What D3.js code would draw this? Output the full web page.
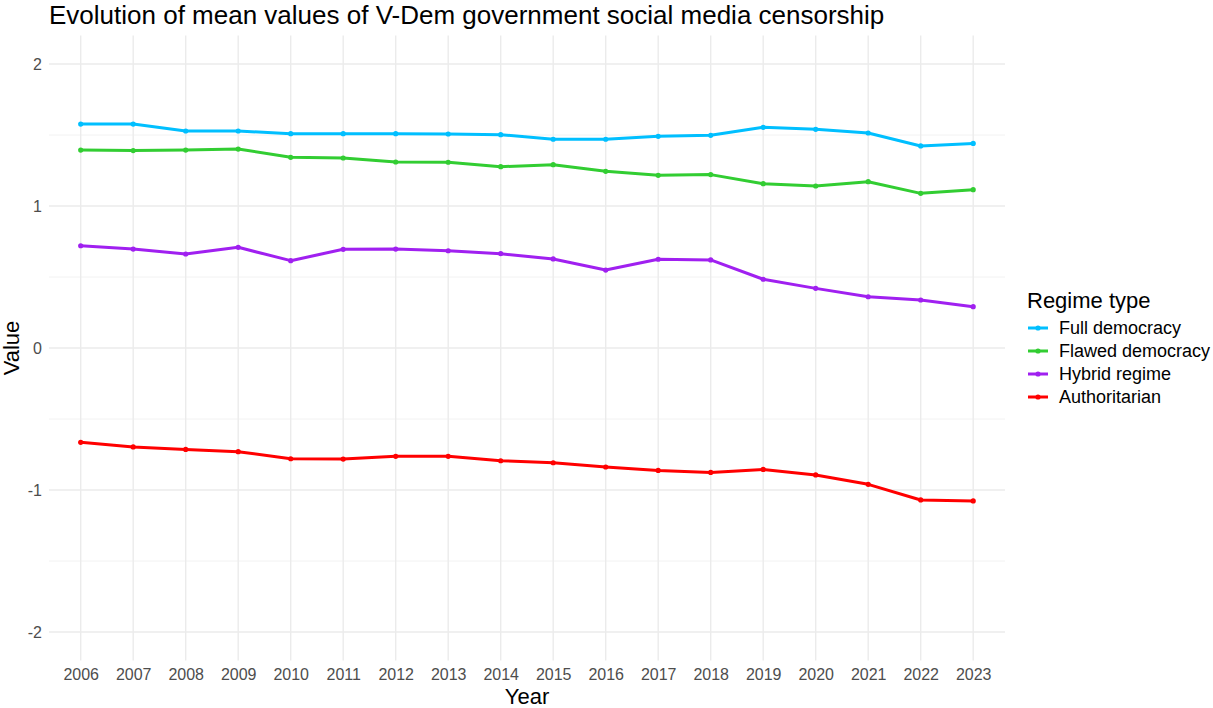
<!DOCTYPE html>
<html><head><meta charset="utf-8">
<script src="https://cdn.jsdelivr.net/npm/d3@7"></script>
<style>
body{margin:0;background:#fff;}
text{font-family:"Liberation Sans",Arial,sans-serif;}
</style></head><body>
<svg id="chart" width="1213" height="708"></svg>
<script>
const years = [2006,2007,2008,2009,2010,2011,2012,2013,2014,2015,2016,2017,2018,2019,2020,2021,2022,2023];
const seriesNames = ["Full democracy","Flawed democracy","Hybrid regime","Authoritarian"];
const seriesColors = ["#00BFFF","#32CD32","#A020F0","#FF0000"];
const fullDemocracy = [1.577,1.577,1.528,1.528,1.509,1.509,1.509,1.507,1.502,1.470,1.470,1.491,1.498,1.554,1.540,1.514,1.423,1.441];
const flawedDemocracy = [1.394,1.390,1.394,1.401,1.343,1.338,1.310,1.308,1.277,1.291,1.244,1.216,1.221,1.157,1.141,1.171,1.089,1.115];
const hybridRegime = [0.720,0.697,0.662,0.709,0.615,0.695,0.697,0.685,0.664,0.627,0.549,0.625,0.620,0.484,0.420,0.361,0.338,0.291];
const authoritarian = [-0.664,-0.697,-0.714,-0.730,-0.780,-0.782,-0.763,-0.763,-0.794,-0.808,-0.838,-0.862,-0.876,-0.855,-0.894,-0.960,-1.070,-1.077];
const yTicks = [-2,-1,0,1,2];
const yMinor = [-1.5,-0.5,0.5,1.5];

const seriesValues = [fullDemocracy, flawedDemocracy, hybridRegime, authoritarian];

const svg = d3.select("#chart");
const panel = {left:49, right:1005, top:35.6, bottom:660.4};

const x = d3.scalePoint().domain(years).range([80.7, 973.2]);
const y = d3.scaleLinear().domain([-2.2, 2.2]).range([panel.bottom, panel.top]);

// grid
const g = svg.append("g");
g.selectAll(".ymin").data(yMinor).enter().append("line")
  .attr("x1", panel.left).attr("x2", panel.right)
  .attr("y1", d=>y(d)).attr("y2", d=>y(d))
  .attr("stroke", "#F2F2F2").attr("stroke-width", 1);
g.selectAll(".ymaj").data(yTicks).enter().append("line")
  .attr("x1", panel.left).attr("x2", panel.right)
  .attr("y1", d=>y(d)).attr("y2", d=>y(d))
  .attr("stroke", "#EBEBEB").attr("stroke-width", 1.4);
g.selectAll(".xmaj").data(years).enter().append("line")
  .attr("x1", d=>x(d)).attr("x2", d=>x(d))
  .attr("y1", panel.top).attr("y2", panel.bottom)
  .attr("stroke", "#EBEBEB").attr("stroke-width", 1.4);

// axes text
const xAxis = d3.axisBottom(x).tickSize(0).tickPadding(0);
const xa = svg.append("g").attr("transform", `translate(0,${panel.bottom})`).call(xAxis);
xa.select(".domain").remove();
xa.selectAll("text").attr("font-size", 16).attr("fill", "#4D4D4D")
  .attr("font-family", "Liberation Sans, Arial, sans-serif").attr("dy", "0").attr("y", 19.6);

const yAxis = d3.axisLeft(y).tickValues(yTicks).tickSize(0).tickPadding(0).tickFormat(d => String(d));
const ya = svg.append("g").attr("transform", `translate(42,0)`).call(yAxis);
ya.select(".domain").remove();
ya.selectAll("text").attr("font-size", 16).attr("fill", "#4D4D4D")
  .attr("font-family", "Liberation Sans, Arial, sans-serif").attr("dy", "0.35em").attr("x", 0);

// titles
svg.append("text").attr("x", 49).attr("y", 24).attr("font-size", 26).attr("fill", "#000")
  .text("Evolution of mean values of V-Dem government social media censorship");
svg.append("text").attr("x", (panel.left+panel.right)/2).attr("y", 704).attr("text-anchor", "middle")
  .attr("font-size", 22).attr("fill", "#000").text("Year");
svg.append("text").attr("transform", `translate(18.5,${y(0)}) rotate(-90)`).attr("text-anchor", "middle")
  .attr("font-size", 22).attr("fill", "#000").text("Value");

// lines
const line = d3.line().x((d,i)=>x(years[i])).y(d=>y(d));
seriesValues.forEach((vals, si) => {
  svg.append("path").datum(vals).attr("d", line).attr("fill", "none")
    .attr("stroke", seriesColors[si]).attr("stroke-width", 3).attr("stroke-linejoin", "round");
  svg.selectAll(".pt"+si).data(vals).enter().append("circle")
    .attr("cx", (d,i)=>x(years[i])).attr("cy", d=>y(d)).attr("r", 2.6)
    .attr("fill", seriesColors[si]);
});

// legend
const lg = svg.append("g");
lg.append("text").attr("x", 1027).attr("y", 308).attr("font-size", 22).attr("fill", "#000").text("Regime type");
seriesNames.forEach((name, i) => {
  const cy = 328 + i*23;
  lg.append("line").attr("x1", 1028).attr("x2", 1048).attr("y1", cy).attr("y2", cy)
    .attr("stroke", seriesColors[i]).attr("stroke-width", 3);
  lg.append("circle").attr("cx", 1038).attr("cy", cy).attr("r", 2.6).attr("fill", seriesColors[i]);
  lg.append("text").attr("x", 1059).attr("y", cy).attr("dy", "0.35em").attr("font-size", 18)
    .attr("fill", "#000").text(name);
});
</script>
</body></html>
